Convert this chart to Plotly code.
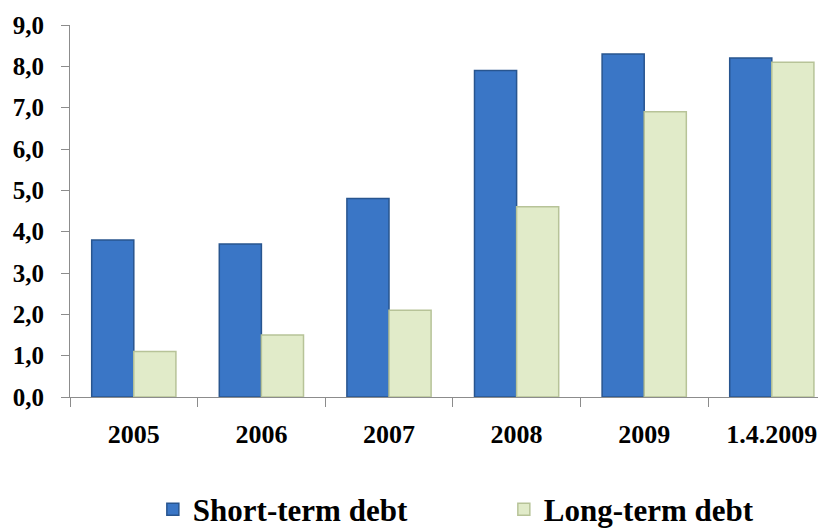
import plotly.graph_objects as go

# Debt by period (values in the chart's units)
periods = ["2005", "2006", "2007", "2008", "2009", "1.4.2009"]
short_term = [3.8, 3.7, 4.8, 7.9, 8.3, 8.2]
long_term = [1.1, 1.5, 2.1, 4.6, 6.9, 8.1]
y_ticks = [0, 1, 2, 3, 4, 5, 6, 7, 8, 9]

FONT = "Liberation Serif"

fig = go.Figure()
fig.add_trace(go.Bar(
    x=periods, y=short_term, name="Short-term debt",
    marker=dict(color="#3a76c6", line=dict(color="#28558f", width=1.5)),
))
fig.add_trace(go.Bar(
    x=periods, y=long_term, name="Long-term debt",
    marker=dict(color="#e1ebc9", line=dict(color="#b7c398", width=1.5)),
))

fig.update_layout(
    width=818, height=532,
    margin=dict(l=70, r=0, t=25, b=135, autoexpand=False),
    paper_bgcolor="white", plot_bgcolor="white",
    barmode="group", bargap=0.34, bargroupgap=0,
    separators=",.",
    font=dict(family=FONT, color="black", weight="bold"),
    showlegend=True,
    legend=dict(
        orientation="h", x=0.58, xanchor="center", y=-0.303, yanchor="middle",
        font=dict(family=FONT, size=31, color="black", weight="bold"),
        entrywidth=306, entrywidthmode="pixels",
    ),
)

fig.update_xaxes(
    type="category", range=[-0.5, 5.362], automargin=False,
    showline=True, linecolor="#8c8c8c", linewidth=1,
    ticks="outside", tickson="boundaries", ticklen=9, tickcolor="#8c8c8c",
    showgrid=False, zeroline=False,
    tickfont=dict(family=FONT, size=26, color="black", weight="bold"),
    ticklabelstandoff=14,
)
fig.update_yaxes(
    range=[0, 9], tickvals=y_ticks, tickformat=".1f", automargin=False,
    showline=True, linecolor="#8c8c8c", linewidth=1,
    ticks="outside", ticklen=8, tickcolor="#8c8c8c",
    showgrid=False, zeroline=False,
    tickfont=dict(family=FONT, size=25, color="black", weight="bold"),
    ticklabelstandoff=12,
)

fig.write_html("out.html")
